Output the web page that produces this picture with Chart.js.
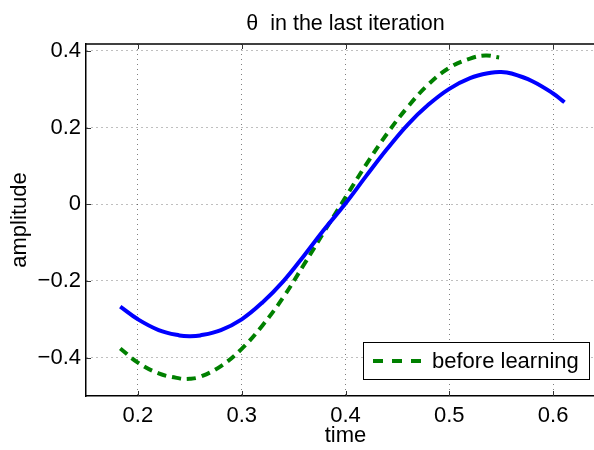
<!DOCTYPE html>
<html>
<head>
<meta charset="utf-8">
<script src="https://cdn.jsdelivr.net/npm/chart.js@4/dist/chart.umd.min.js"></script>
<style>
    body { margin: 0; background: #fff; overflow: hidden; }
    #wrap { width: 594px; height: 450px; overflow: hidden; }
</style>
</head>
<body>
<div id="wrap"><canvas id="chart" width="620" height="450"></canvas></div>
<script>
const chartTitle = "\u03b8  in the last iteration"
const xLabel = "time"
const yLabel = "amplitude"
const xTicks = [0.2, 0.3, 0.4, 0.5, 0.6]
const yTicks = [-0.4, -0.2, 0, 0.2, 0.4]

// after learning (solid blue, not in legend)
const afterTime = [0.183, 0.20, 0.22, 0.24, 0.25, 0.26, 0.28, 0.30, 0.32, 0.34, 0.36, 0.38, 0.40, 0.42, 0.44, 0.46, 0.48, 0.50, 0.52, 0.54, 0.55, 0.56, 0.58, 0.60, 0.611]
const afterAmp = [-0.267, -0.300, -0.328, -0.342, -0.344, -0.342, -0.328, -0.300, -0.256, -0.201, -0.134, -0.064, 0.002, 0.074, 0.144, 0.208, 0.260, 0.301, 0.329, 0.343, 0.345, 0.341, 0.321, 0.289, 0.266]

// before learning (dashed green)
const beforeName = "before learning"
const beforeTime = [0.183, 0.20, 0.22, 0.24, 0.25, 0.26, 0.28, 0.30, 0.32, 0.34, 0.36, 0.38, 0.40, 0.42, 0.44, 0.46, 0.48, 0.50, 0.52, 0.535, 0.548]
const beforeAmp = [-0.376, -0.413, -0.441, -0.454, -0.455, -0.450, -0.422, -0.377, -0.316, -0.243, -0.157, -0.069, 0.018, 0.104, 0.184, 0.254, 0.313, 0.356, 0.380, 0.388, 0.383]

const fontFamily = '"Liberation Sans", Arial, Helvetica, sans-serif'

function toPoints(xs, ys) {
    let pts = []
    for (let i = 0; i < xs.length; i++) {
        pts.push({x: xs[i], y: ys[i]})
    }
    return pts
}

function fixTicks(values) {
    return function(scale) {
        scale.ticks = values.map(v => ({value: v}))
    }
}

// MATLAB style box: top edge, inward tick marks, title, legend
const matlabBox = {
    id: 'matlabBox',
    afterDraw(chart) {
        const ctx = chart.ctx
        const area = chart.chartArea
        const xs = chart.scales.x
        const ys = chart.scales.y
        ctx.save()
        ctx.strokeStyle = '#000'
        ctx.lineWidth = 1.5
        ctx.beginPath()
        ctx.moveTo(area.left, area.top)
        ctx.lineTo(area.right, area.top)
        ctx.stroke()

        ctx.lineWidth = 1
        ctx.strokeStyle = '#333'
        ctx.beginPath()
        xTicks.forEach(function(v) {
            let px = Math.round(xs.getPixelForValue(v)) + 0.5
            ctx.moveTo(px, area.bottom)
            ctx.lineTo(px, area.bottom - 5)
            ctx.moveTo(px, area.top)
            ctx.lineTo(px, area.top + 5)
        })
        yTicks.forEach(function(v) {
            let py = Math.round(ys.getPixelForValue(v)) + 0.5
            ctx.moveTo(area.left, py)
            ctx.lineTo(area.left + 5, py)
            ctx.moveTo(area.right, py)
            ctx.lineTo(area.right - 5, py)
        })
        ctx.stroke()

        // title
        ctx.fillStyle = '#000'
        ctx.font = '21.5px ' + fontFamily
        ctx.textAlign = 'center'
        ctx.textBaseline = 'alphabetic'
        ctx.fillText(chartTitle, (area.left + area.right) / 2, 29.5)

        // legend
        const ds = chart.data.datasets[1]
        const bx = 363, by = 342, bw = 226, bh = 37
        ctx.fillStyle = '#fff'
        ctx.fillRect(bx, by, bw, bh)
        ctx.strokeStyle = '#000'
        ctx.lineWidth = 1
        ctx.strokeRect(bx + 0.5, by + 0.5, bw, bh)
        ctx.strokeStyle = ds.borderColor
        ctx.lineWidth = ds.borderWidth
        ctx.setLineDash([10, 9])
        ctx.beginPath()
        ctx.moveTo(bx + 10, by + bh / 2 + 0.5)
        ctx.lineTo(bx + 60, by + bh / 2 + 0.5)
        ctx.stroke()
        ctx.setLineDash([])
        ctx.fillStyle = '#000'
        ctx.font = '22px ' + fontFamily
        ctx.textAlign = 'left'
        ctx.textBaseline = 'middle'
        ctx.fillText(ds.label, bx + 69, by + bh / 2 + 1)
        ctx.restore()
    }
}

const tickFont = {family: fontFamily, size: 22}
const gridStyle = {color: 'rgba(0,0,0,0.5)', lineWidth: 1, drawTicks: false}

let config = {
    type: 'line',
    data: {
        datasets: [{
            label: 'after learning',
            data: toPoints(afterTime, afterAmp),
            borderColor: '#0000ff',
            borderWidth: 4,
            pointRadius: 0,
            tension: 0.4,
            fill: false,
        }, {
            label: beforeName,
            data: toPoints(beforeTime, beforeAmp),
            borderColor: '#008000',
            borderWidth: 4,
            borderDash: [9, 6],
            pointRadius: 0,
            tension: 0.4,
            fill: false,
        }]
    },
    options: {
        responsive: false,
        animation: false,
        devicePixelRatio: 1,
        layout: {padding: {top: 44, right: 15, left: 0, bottom: 0}},
        plugins: {
            legend: {display: false},
            title: {display: false},
            tooltip: {enabled: false}
        },
        scales: {
            x: {
                type: 'linear',
                min: 0.15,
                max: 0.65,
                afterBuildTicks: fixTicks(xTicks),
                afterFit: function(scale) { scale.height = 54 },
                grid: gridStyle,
                border: {display: true, color: '#000', width: 1.5, dash: [1, 4]},
                ticks: {
                    font: tickFont,
                    color: '#000',
                    padding: 7,
                    maxRotation: 0,
                    callback: v => v.toFixed(1)
                },
                title: {
                    display: true,
                    text: xLabel,
                    color: '#000',
                    font: {family: fontFamily, size: 22, lineHeight: 1},
                    padding: {top: 0, bottom: 3}
                }
            },
            y: {
                type: 'linear',
                min: -0.5,
                max: 0.418,
                afterBuildTicks: fixTicks(yTicks),
                afterFit: function(scale) { scale.width = 86 },
                grid: gridStyle,
                border: {display: true, color: '#000', width: 1.5, dash: [1, 4]},
                ticks: {
                    font: tickFont,
                    color: '#000',
                    padding: 5,
                    callback: v => v === 0 ? '0' : (v < 0 ? '\u2212' : '') + Math.abs(v).toFixed(1)
                },
                title: {
                    display: true,
                    text: yLabel,
                    color: '#000',
                    font: {family: fontFamily, size: 22, lineHeight: 1},
                    padding: {top: 9, bottom: 0}
                }
            }
        }
    },
    plugins: [matlabBox]
}

let chart = new Chart(document.getElementById("chart").getContext("2d"), config)
</script>
</body>
</html>
